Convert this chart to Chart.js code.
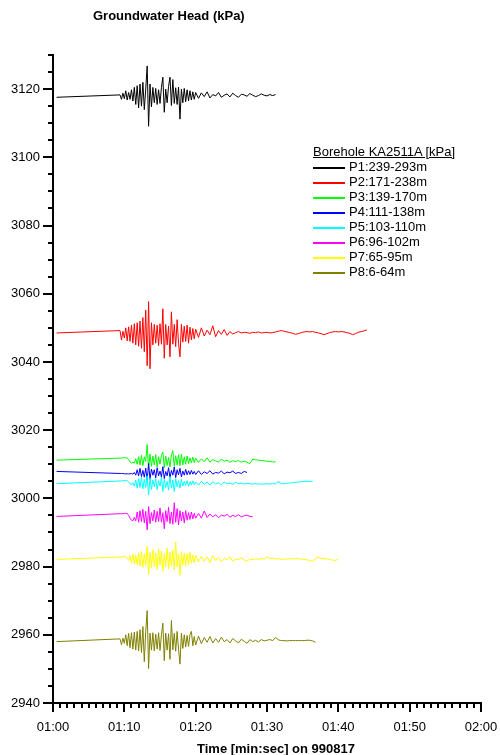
<!DOCTYPE html>
<html>
<head>
<meta charset="utf-8">
<script src="https://cdn.jsdelivr.net/npm/chart.js@4.4.1/dist/chart.umd.min.js"></script>
<style>
  html, body { margin: 0; padding: 0; background: #fff; }
  #wrap { position: relative; width: 500px; height: 755px; font-family: 'Liberation Sans', Arial, sans-serif; color: #000; }
  #c { position: absolute; left: 0; top: 0; }
  .ttl { position: absolute; font-size: 13px; font-weight: bold; white-space: nowrap; }
  #legend { position: absolute; left: 313px; top: 144px; font-size: 13px; line-height: 15px; white-space: nowrap; }
  #legend .head { text-decoration: underline; }
  #legend .sw { display: inline-block; width: 32px; height: 2px; vertical-align: middle; margin-right: 4px; }
</style>
</head>
<body>
<div id="wrap">
  <canvas id="c" width="500" height="755"></canvas>
  <div class="ttl" style="left:93px;top:8px">Groundwater Head (kPa)</div>
  <div class="ttl" style="left:197px;top:741px">Time [min:sec] on 990817</div>
  <div id="legend"></div>
</div>
<script>
// sample times, minutes after 00:00 (60 = 01:00)
const TIME = [60.5, 69.4, 69.6, 69.8, 70, 70.2, 70.4, 70.6, 70.8, 71, 71.2, 71.4, 71.6, 71.8, 72,
  72.2, 72.4, 72.6, 72.8, 73, 73.2, 73.4, 73.6, 73.8, 74, 74.2, 74.4, 74.6, 74.8, 75,
  75.2, 75.4, 75.6, 75.8, 76, 76.2, 76.4, 76.6, 76.8, 77, 77.2, 77.4, 77.6, 77.8, 78,
  78.2, 78.4, 78.6, 78.8, 79, 79.2, 79.4, 79.6, 79.8, 80,
  80.4, 80.8, 81.2, 81.6, 82, 82.4, 82.8, 83.2, 83.6, 84,
  84.4, 84.8, 85.2, 85.6, 86, 86.4, 86.8, 87.2, 87.6, 88,
  88.4, 88.8, 89.2, 89.6, 90, 90.4, 90.8, 91.2, 91.6, 92,
  92.4, 92.8, 93.2, 93.6, 94, 94.4, 94.8, 95.2, 95.6, 96,
  96.4, 96.8, 97.2, 97.6, 98, 98.4, 98.8, 99.2, 99.6, 100,
  100.4, 100.8, 101.2, 101.6, 102, 102.4, 102.8, 103.2, 103.6, 104];

const P1 = [3117.6,
  3118.3, 3117.0, 3118.8, 3117.2, 3119.5, 3116.8, 3119.0, 3117.0, 3119.8, 3116.5,
  3120.5, 3115.5, 3121.0, 3114.5, 3121.5, 3115.0, 3122.0, 3114.0, 3120.0, 3126.8,
  3109.1, 3121.5, 3114.8, 3120.5, 3116.0, 3120.2, 3115.5, 3119.8, 3115.8, 3120.5,
  3123.5, 3113.2, 3120.0, 3116.0, 3120.8, 3123.5, 3115.2, 3122.8, 3115.8, 3120.4,
  3115.5, 3120.6, 3111.2, 3120.0, 3116.0, 3120.2, 3116.3, 3119.8, 3116.6, 3119.5,
  3116.8, 3119.2, 3117.0, 3119.0,
  3117.3, 3118.9, 3117.8, 3119.2, 3117.4, 3118.4, 3118.0, 3119.0, 3117.6, 3118.2,
  3118.6, 3117.7, 3118.8, 3118.1, 3117.6, 3118.5, 3118.3, 3117.9, 3118.7, 3118.2,
  3117.8, 3118.1, 3118.6, 3118.2, 3118.0, 3118.4, 3118.1, 3118.4];

const P2 = [3048.5,
  3049.2, 3046.4, 3049.0, 3047.0, 3050.0, 3046.2, 3050.3, 3046.0, 3050.8, 3045.5,
  3051.2, 3045.0, 3051.5, 3044.6, 3052.0, 3044.0, 3053.0, 3043.0, 3055.2, 3038.9,
  3057.7, 3038.0, 3051.5, 3045.0, 3051.0, 3045.5, 3050.8, 3044.8, 3051.2, 3045.2,
  3055.6, 3041.1, 3051.0, 3045.0, 3050.5, 3041.5, 3054.7, 3045.2, 3051.0, 3044.5,
  3052.4, 3045.5, 3041.5, 3051.0, 3045.8, 3050.5, 3046.0, 3050.8, 3045.5, 3050.2,
  3046.5, 3049.8, 3046.8, 3049.6,
  3047.2, 3050.0, 3047.6, 3049.3, 3048.0, 3050.6, 3047.4, 3049.2, 3048.1, 3049.5, 3047.8, 3048.9, 3048.2,
  3048.6, 3048.9, 3048.5, 3048.7, 3048.6, 3048.4, 3048.7, 3048.6, 3048.8, 3048.5,
  3048.6, 3048.7, 3048.5, 3048.6, 3048.8, 3049.0, 3049.2, 3049.0, 3048.8, 3048.6,
  3048.4, 3048.1, 3048.3, 3048.6, 3048.8, 3048.9, 3048.8, 3048.9, 3048.7, 3048.5,
  3048.3, 3048.0, 3048.3, 3048.6, 3048.8, 3048.9, 3048.8, 3048.9, 3048.8, 3048.6,
  3048.4, 3048.0, 3048.3, 3048.7, 3048.9, 3049.1, 3049.4];

const P3 = [3011.2, 3011.8, 3011.8, 3011.9, 3011.9, 3011.9, 3011.9,
  3011.3, 3010.7, 3010.4, 3010.6, 3010.3,
  3011.6, 3010.0, 3012.2, 3009.8, 3012.6, 3009.6, 3012.2, 3010.8, 3015.8, 3008.4,
  3013.0, 3009.4, 3012.4, 3009.8, 3012.8, 3009.2, 3012.2, 3010.0, 3012.6, 3013.6,
  3009.0, 3012.4, 3009.6, 3012.0, 3009.2, 3012.8, 3014.0, 3009.4, 3012.5, 3009.8,
  3012.8, 3009.6, 3013.0, 3009.8, 3012.2, 3010.0, 3012.4, 3010.2, 3011.9, 3010.4,
  3012.1, 3010.5, 3011.8,
  3010.5, 3011.6, 3010.7, 3011.9, 3010.6, 3011.4, 3011.0, 3010.6, 3011.5, 3010.9,
  3011.2, 3010.6, 3011.0, 3010.8, 3011.1, 3010.6, 3010.9, 3010.6, 3010.2, 3011.5,
  3011.3, 3011.2, 3011.1, 3011.0, 3010.9, 3010.8, 3010.7, 3010.7];

const P4 = [3007.9, 3007.3, 3007.3, 3007.3, 3007.2, 3007.2, 3007.2, 3007.2, 3007.2, 3007.3, 3007.1, 3007.6,
  3006.8, 3008.4, 3006.6, 3008.8, 3006.4, 3008.2, 3006.2, 3008.9, 3005.2, 3010.2,
  3005.6, 3008.6, 3006.8, 3008.4, 3006.0, 3009.0, 3006.6, 3008.0, 3006.3, 3009.3,
  3005.8, 3007.9, 3006.6, 3009.0, 3006.0, 3008.2, 3006.8, 3009.2, 3006.1, 3008.4,
  3006.9, 3008.8, 3006.3, 3008.0, 3006.8, 3008.5, 3006.9, 3008.1, 3007.0, 3008.2,
  3007.1, 3007.9, 3007.0,
  3008.1, 3007.0, 3007.8, 3007.3, 3008.1, 3007.1, 3007.6, 3007.4, 3008.0, 3007.2,
  3007.7, 3007.5, 3008.0, 3007.3, 3007.6, 3007.3, 3007.9, 3007.6];

const P5 = [3004.3, 3005.1, 3005.1, 3005.2, 3005.2, 3005.2, 3005.2, 3004.8, 3004.3, 3004.0, 3004.6, 3003.6,
  3005.4, 3003.0, 3005.8, 3003.2, 3006.2, 3002.8, 3005.6, 3003.2, 3006.6, 3001.0,
  3006.0, 3002.6, 3005.4, 3003.4, 3005.8, 3002.6, 3005.2, 3003.6, 3006.2, 3002.0,
  3005.6, 3003.2, 3005.0, 3002.4, 3006.4, 3003.0, 3005.4, 3002.0, 3005.8, 3003.4,
  3005.2, 3003.0, 3005.6, 3003.6, 3005.0, 3003.8, 3005.2, 3003.5, 3004.9, 3003.9,
  3005.1, 3004.0, 3004.8,
  3003.9, 3005.0, 3004.1, 3004.8, 3003.9, 3004.9, 3004.2, 3004.6, 3004.0, 3004.8,
  3004.3, 3004.5, 3004.1, 3004.7, 3004.3, 3004.5, 3004.2, 3004.4, 3004.3, 3004.2,
  3004.3, 3004.2, 3004.2, 3004.2, 3004.3, 3004.2, 3004.3, 3004.3, 3004.9, 3004.3,
  3004.3, 3004.4, 3004.5, 3004.6, 3004.7, 3004.8, 3004.9, 3005.0, 3005.0, 3005.0, 3005.0];

const P6 = [2994.7, 2995.5, 2995.5, 2995.5, 2995.6, 2995.6, 2995.6, 2995.0, 2994.2, 2993.6, 2993.4, 2994.4,
  2993.4, 2996.0, 2993.0, 2996.4, 2993.2, 2996.8, 2992.8, 2996.2, 2990.8, 2997.6,
  2992.6, 2995.8, 2993.4, 2996.6, 2993.0, 2996.2, 2993.2, 2997.2, 2993.0, 2995.8,
  2991.1, 2996.4, 2993.2, 2997.4, 2992.6, 2996.0, 2992.4, 2998.7, 2993.0, 2997.0,
  2992.2, 2996.4, 2993.4, 2996.0, 2992.8, 2996.4, 2993.6, 2995.8, 2993.8, 2996.0,
  2994.0, 2995.6, 2994.2,
  2995.6, 2994.2, 2996.3, 2994.4, 2995.4, 2994.6, 2995.2, 2994.3, 2995.1, 2994.8,
  2995.3, 2994.5, 2995.0, 2994.7, 2995.2, 2994.6, 2994.9, 2995.1, 2994.7, 2994.6];

const P7 = [2982.1, 2982.8, 2982.8, 2982.9, 2982.9, 2982.9, 2982.4, 2981.8, 2983.2, 2981.0, 2983.6, 2980.8,
  2983.4, 2980.6, 2984.0, 2980.2, 2984.4, 2979.8, 2983.8, 2980.4, 2986.0, 2977.7,
  2984.2, 2979.6, 2985.0, 2980.0, 2984.0, 2979.2, 2985.2, 2980.4, 2984.6, 2978.6,
  2983.8, 2980.0, 2985.4, 2979.4, 2984.2, 2980.2, 2984.8, 2979.0, 2987.2, 2980.0,
  2983.6, 2977.4, 2984.4, 2980.4, 2984.0, 2980.2, 2983.8, 2980.6, 2984.2, 2981.0,
  2983.4, 2981.2, 2983.2,
  2981.4, 2983.0, 2981.6, 2982.8, 2981.2, 2983.2, 2981.8, 2982.6, 2981.5, 2982.4,
  2982.0, 2982.9, 2981.6, 2982.3, 2982.0, 2982.6, 2981.9, 2981.6,
  2982.2, 2982.0, 2982.3, 2982.1, 2982.4, 2982.2, 2982.9, 2982.3, 2982.5, 2982.2,
  2982.3, 2982.1, 2982.2, 2982.2, 2982.3, 2982.2, 2982.4, 2982.3, 2982.2, 2982.1,
  2982.0, 2981.8, 2981.5, 2982.3, 2982.8, 2982.3, 2982.4, 2982.2, 2982.1, 2981.9,
  2981.8, 2982.2];

const P8 = [2958.0, 2958.8, 2957.1, 2959.0, 2957.5, 2960.0, 2956.8, 2960.4, 2956.2, 2960.6,
  2955.8, 2960.8, 2955.5, 2961.0, 2955.3, 2961.5, 2954.8, 2962.4, 2952.1, 2961.0,
  2967.1, 2950.1, 2960.5, 2955.5, 2960.6, 2955.3, 2960.2, 2955.8, 2960.6, 2955.4,
  2960.0, 2963.4, 2952.4, 2960.5, 2955.5, 2960.3, 2952.8, 2964.2, 2955.6, 2960.4,
  2955.2, 2961.0, 2955.8, 2951.4, 2960.5, 2956.0, 2960.0, 2956.4, 2959.8, 2956.6,
  2960.0, 2961.0, 2956.8, 2959.5, 2957.0,
  2959.6, 2957.4, 2959.2, 2957.8, 2959.5, 2957.6, 2958.9, 2957.8, 2959.3, 2958.0, 2958.6, 2957.6, 2958.9,
  2958.2, 2957.6, 2958.7, 2958.1, 2957.5, 2958.6, 2958.0, 2958.4, 2957.9, 2958.6,
  2958.2, 2958.4, 2958.6, 2958.3, 2959.2,
  2958.5, 2958.3, 2958.3, 2958.2, 2958.3, 2958.3, 2958.3, 2958.3, 2958.3, 2958.3,
  2958.4, 2958.4, 2958.2, 2957.8];

const LABELS = ['P1:239-293m', 'P2:171-238m', 'P3:139-170m', 'P4:111-138m',
  'P5:103-110m', 'P6:96-102m', 'P7:65-95m', 'P8:6-64m'];
const COLORS = ['#000000', '#ff0000', '#00ff00', '#0000ff', '#00ffff', '#ff00ff', '#ffff00', '#808000'];
const VALUES = [P1, P2, P3, P4, P5, P6, P7, P8];

const Y_MIN = 2940, Y_MAX = 3130;
const X_MIN = 60, X_MAX = 120;

const pad = n => String(n).padStart(2, '0');
const fmtTime = v => pad(Math.floor(v / 60)) + ':' + pad(v % 60);

// short minor tick marks (every 5 kPa / every minute)
const minorTicks = {
  id: 'minorTicks',
  afterDraw(chart) {
    const { ctx, chartArea: a, scales: { x, y } } = chart;
    ctx.save();
    ctx.strokeStyle = '#000';
    ctx.lineWidth = 2;
    ctx.beginPath();
    for (let v = Y_MIN; v <= Y_MAX; v += 5) {
      if (v % 20 === 0) continue;
      const py = Math.round(y.getPixelForValue(v));
      ctx.moveTo(a.left - 5, py); ctx.lineTo(a.left, py);
    }
    for (let m = X_MIN; m <= X_MAX; m++) {
      if (m % 10 === 0) continue;
      const px = Math.round(x.getPixelForValue(m));
      ctx.moveTo(px, a.bottom); ctx.lineTo(px, a.bottom + 5);
    }
    ctx.stroke();
    ctx.restore();
  }
};

Chart.defaults.font.family = "'Liberation Sans', Arial, sans-serif";
Chart.defaults.font.size = 13;
Chart.defaults.color = '#000';

new Chart(document.getElementById('c'), {
  type: 'line',
  data: {
    datasets: VALUES.map((vals, i) => ({
      label: LABELS[i],
      data: vals.map((v, k) => ({ x: TIME[k], y: v })),
      borderColor: COLORS[i],
      borderWidth: 1,
      pointRadius: 0,
      tension: 0,
      order: VALUES.length - i
    }))
  },
  options: {
    responsive: false,
    animation: false,
    devicePixelRatio: 1,
    layout: { padding: { top: 55, right: 19, left: 0, bottom: 0 } },
    plugins: { legend: { display: false }, tooltip: { enabled: false } },
    scales: {
      x: {
        type: 'linear', min: X_MIN, max: X_MAX,
        ticks: { stepSize: 10, callback: fmtTime, padding: 8, maxRotation: 0 },
        grid: { drawOnChartArea: false, color: '#000', lineWidth: 2, tickLength: 9 },
        border: { color: '#000', width: 2 },
        afterFit(s) { s.height = 52; s.paddingLeft = 0; s.paddingRight = 0; }
      },
      y: {
        min: Y_MIN, max: Y_MAX,
        ticks: { stepSize: 20, includeBounds: false, padding: 3, callback: v => String(v) },
        grid: { drawOnChartArea: false, color: '#000', lineWidth: 2, tickLength: 10 },
        border: { color: '#000', width: 2 },
        afterFit(s) { s.width = 53; s.paddingTop = 0; s.paddingBottom = 0; }
      }
    }
  },
  plugins: [minorTicks]
});

const legend = document.getElementById('legend');
legend.innerHTML = '<div class="head">Borehole KA2511A [kPa]</div>' +
  LABELS.map((l, i) => '<div><span class="sw" style="background:' + COLORS[i] + '"></span>' + l + '</div>').join('');
</script>
</body>
</html>
